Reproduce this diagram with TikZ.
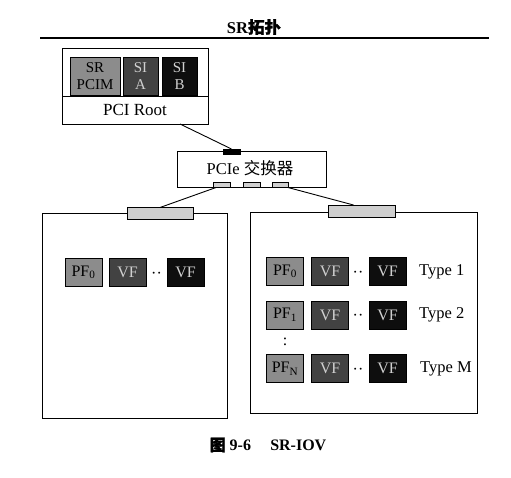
\documentclass[tikz,border=0pt]{standalone}
\usepackage{fontspec}
\setmainfont{Liberation Serif}
\newfontfamily\cjk{Noto Sans CJK SC}
\newfontfamily\cjkb[FakeBold=1.5]{Noto Sans CJK SC}
\usetikzlibrary{calc}
\definecolor{pfgray}{HTML}{8C8C8C}
\definecolor{vfgray}{HTML}{424242}
\definecolor{vfblack}{HTML}{0E0E0E}
\definecolor{portgray}{HTML}{CFCFCF}
\definecolor{lighttext}{HTML}{D0D0D0}
\begin{document}
\begin{tikzpicture}[x=1pt,y=-1pt,
  frame/.style={draw, line width=0.9pt, inner sep=0pt, outer sep=0pt},
  fbox/.style={draw, line width=0.6pt, inner sep=0pt, outer sep=0pt, minimum width=37pt, minimum height=28pt, font=\fontsize{16}{16}\selectfont},
  pfbox/.style={fbox, fill=pfgray, text=black},
  vfbox/.style={fbox, fill=vfgray, text=lighttext},
  vfbbox/.style={fbox, fill=vfblack, text=lighttext},
  port/.style={draw, line width=0.7pt, fill=portgray, inner sep=0pt, outer sep=0pt},
  blackport/.style={draw, fill=black, inner sep=0pt, outer sep=0pt},
  dots/.style={inner sep=0pt, font=\fontsize{16}{16}\selectfont},
  typelbl/.style={anchor=west, inner sep=0pt, font=\fontsize{16.5}{16}\selectfont},
  link/.style={line width=0.9pt},
  toptext/.style={inner sep=0pt, font=\fontsize{15}{17}\selectfont, align=center}
]
\useasboundingbox (0,0) rectangle (511,477);

% title and rule
\node[inner sep=0pt, font=\fontsize{16.5}{16}\selectfont\bfseries] (title) at (254,27) {SR{\cjkb 拓扑}};
\coordinate (ruleL) at (40,38);
\coordinate (ruleR) at (489,38);
\draw[line width=1.2pt] (ruleL) -- (ruleR);

% PCI root
\node[frame, minimum width=146pt, minimum height=76pt] (root) at (135,86) {};
\node[toptext, fill=pfgray, draw, line width=0.6pt, minimum width=50pt, minimum height=38pt, text=black] (srpcim) at (95,76) {SR\\PCIM};
\node[toptext, fill=vfgray, draw, line width=0.6pt, minimum width=35pt, minimum height=38pt, text=lighttext] (sia) at (140.5,76) {SI\\A};
\node[toptext, fill=vfblack, draw, line width=0.6pt, minimum width=35pt, minimum height=38pt, text=lighttext] (sib) at (179.5,76) {SI\\B};
\coordinate (divL) at (62,96);
\coordinate (divR) at (208,96);
\draw[line width=0.9pt] (divL) -- (divR);
\node[inner sep=0pt, font=\fontsize{17}{16}\selectfont] (rootlbl) at (135,110) {PCI Root};
\coordinate (rootout) at (180,124);

% switch
\node[frame, minimum width=149pt, minimum height=36pt] (sw) at (251.5,169) {};
\node[inner sep=0pt, font=\fontsize{16.5}{16}\selectfont] (swlbl) at (250,168) {PCIe {\cjk 交换器}};
\node[blackport, minimum width=17pt, minimum height=5pt] (swtop) at (231.5,151.5) {};
\node[port, minimum width=17pt, minimum height=5pt] (swp1) at (221.5,185) {};
\node[port, minimum width=17pt, minimum height=5pt] (swp2) at (251.5,185) {};
\node[port, minimum width=16pt, minimum height=5pt] (swp3) at (280,185) {};
\draw[link] (rootout) -- (swtop.north);

% left card
\node[frame, minimum width=185pt, minimum height=205pt] (cardL) at (134.5,315.5) {};
\node[port, minimum width=66pt, minimum height=12pt] (portL) at (160,213.5) {};
\draw[link] ($(swp1.south west)+(3,0)$) -- (portL.north);

\node[pfbox] (lpf) at (83.5,272.5) {PF\textsubscript{0}};
\node[vfbox] (lvf) at (127.5,272.5) {VF};
\node[dots] (ldots) at (156.5,275) {··};
\node[vfbbox] (lvfb) at (185.5,272.5) {VF};

% right card
\node[frame, minimum width=227pt, minimum height=201pt] (cardR) at (363.5,312.5) {};
\node[port, minimum width=67pt, minimum height=12pt] (portR) at (361.5,211) {};
\draw[link] (swp3.south east) -- ($(portR.north)+(-8,0)$);

\node[pfbox] (rpf0) at (285,271.5) {PF\textsubscript{0}};
\node[vfbox] (rvf0) at (330,271.5) {VF};
\node[dots] (rdots0) at (358,274) {··};
\node[vfbbox] (rvfb0) at (387.5,271.5) {VF};
\node[typelbl] (t1) at (419,271.5) {Type 1};

\node[pfbox] (rpf1) at (285,315) {PF\textsubscript{1}};
\node[vfbox] (rvf1) at (330,315) {VF};
\node[dots] (rdots1) at (358,317.5) {··};
\node[vfbbox] (rvfb1) at (387.5,315) {VF};
\node[typelbl] (t2) at (419,315) {Type 2};

\node[dots] (vdots) at (285,342) {:};

\node[pfbox] (rpfn) at (285,368.5) {PF\textsubscript{N}};
\node[vfbox] (rvfn) at (330,368.5) {VF};
\node[dots] (rdotsn) at (358,371) {··};
\node[vfbbox] (rvfbn) at (387.5,368.5) {VF};
\node[typelbl] (tm) at (420,368.5) {Type M};

% caption
\node[inner sep=0pt, font=\fontsize{16}{16}\selectfont\bfseries] (cap) at (268,445) {{\cjkb 图} 9-6\hspace{1.2em}SR-IOV};
\end{tikzpicture}
\end{document}
